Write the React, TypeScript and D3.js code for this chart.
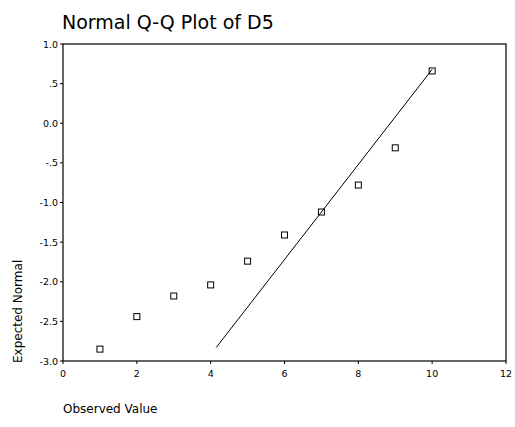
import React from "react";
import * as d3 from "d3";

const observed = [1, 2, 3, 4, 5, 6, 7, 8, 9, 10];
const expected = [-2.85, -2.44, -2.18, -2.04, -1.74, -1.41, -1.12, -0.78, -0.31, 0.66];
const lineX = [4.15, 10];
const lineY = [-2.83, 0.68];
const xTicks = [0, 2, 4, 6, 8, 10, 12];
const yTicks = [1.0, 0.5, 0.0, -0.5, -1.0, -1.5, -2.0, -2.5, -3.0];
const yTickLabels = ["1.0", ".5", "0.0", "-.5", "-1.0", "-1.5", "-2.0", "-2.5", "-3.0"];

const W = 515, H = 427;
const left = 63, right = 506, top = 44, bottom = 361;

export default function App() {
  const x = d3.scaleLinear().domain([0, 12]).range([left, right]);
  const y = d3.scaleLinear().domain([-3, 1]).range([bottom, top]);
  const font = "'DejaVu Sans', Verdana, sans-serif";
  const linePath = d3.line<number>()((lineX.map((v, i) => [x(v), y(lineY[i])]) as any)) || "";
  return (
    <svg width={W} height={H} style={{ position: "absolute", left: 0, top: 0, background: "#fff" }}>
      <rect x={0} y={0} width={W} height={H} fill="#fff" />
      <text x={62} y={29} fontFamily={font} fontSize={19} fill="#000">Normal Q-Q Plot of D5</text>
      <rect x={left} y={top} width={right - left} height={bottom - top} fill="none" stroke="#000" strokeWidth={1.2} />
      {yTicks.map((t, i) => (
        <g key={"y" + i}>
          <line x1={left - 3} x2={left} y1={y(t)} y2={y(t)} stroke="#000" />
          <text x={left - 5} y={y(t) + 3.5} textAnchor="end" fontFamily={font} fontSize={9.5} fill="#000">{yTickLabels[i]}</text>
        </g>
      ))}
      {xTicks.map((t, i) => (
        <g key={"x" + i}>
          <line x1={x(t)} x2={x(t)} y1={bottom} y2={bottom + 3} stroke="#000" />
          <text x={x(t)} y={bottom + 16} textAnchor="middle" fontFamily={font} fontSize={9.5} fill="#000">{t}</text>
        </g>
      ))}
      <text transform={`translate(22, ${bottom + 2}) rotate(-90)`} textAnchor="start" fontFamily={font} fontSize={12} fill="#000">Expected Normal</text>
      <text x={left} y={413} fontFamily={font} fontSize={12} fill="#000">Observed Value</text>
      <path d={linePath} fill="none" stroke="#000" strokeWidth={1} />
      {observed.map((v, i) => (
        <rect key={"p" + i} x={x(v) - 3} y={y(expected[i]) - 3} width={6} height={6} fill="none" stroke="#000" strokeWidth={1} />
      ))}
    </svg>
  );
}
